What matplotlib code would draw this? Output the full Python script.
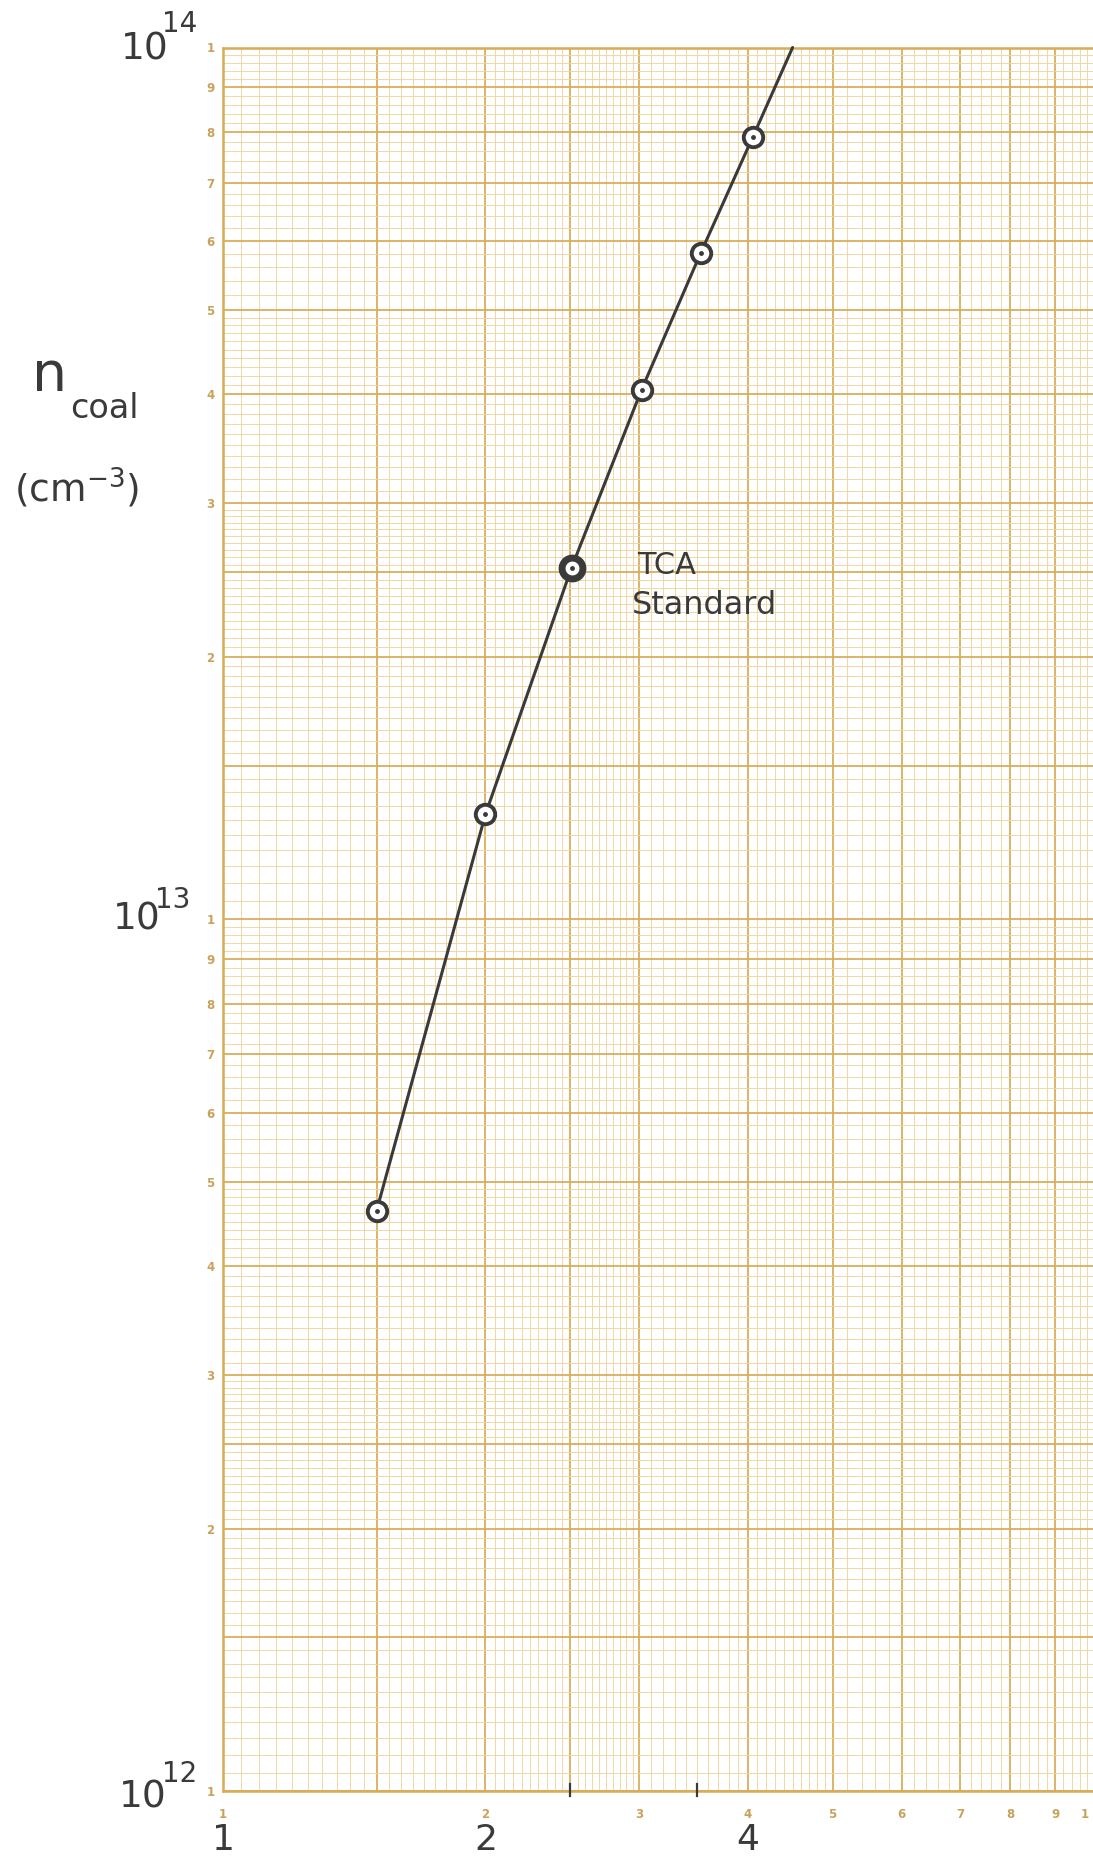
import numpy as np
import matplotlib
matplotlib.use('Agg')
import matplotlib.pyplot as plt
from matplotlib.ticker import NullFormatter, FixedLocator, FixedFormatter
from matplotlib.transforms import blended_transform_factory

# ---------------- data ----------------
x_vals = [1.50, 2.00, 2.51, 3.02, 3.53, 4.05]
n_coal = [4.63e12, 1.32e13, 2.53e13, 4.05e13, 5.81e13, 7.89e13]
tca_index = 2
line_end_x = 4.50
line_end_y = 1.0e14
pencil_ticks = [2.5, 3.5]

# ---------------- graph-paper rulings ----------------
major_mantissas = [1, 1.5, 2, 2.5, 3, 4, 5, 6, 7, 8, 9]
major_labels = ['1', '', '2', '', '3', '4', '5', '6', '7', '8', '9']
fine_ranges = [(1.0, 3.0, 0.05), (3.0, 5.0, 0.1), (5.0, 10.0, 0.2)]
y_decades = [1e12, 1e13]
hand_x_values = [1, 2, 4]
hand_x_labels = ['1', '2', '4']

W, H = 1093, 1863
INK = '#3a3a3a'
HEAVY = '#d7ac55'
FINE = '#efd59e'
PRINT = '#c9a25a'

fig = plt.figure(figsize=(W / 100, H / 100), dpi=100)
fig.patch.set_facecolor('white')

left_px, bottom_px, top_px, decade_px = 223, 1791, 47.5, 872
ax = fig.add_axes([left_px / W, 1 - bottom_px / H, decade_px / W, (bottom_px - top_px) / H])
ax.set_xscale('log')
ax.set_yscale('log')
ax.set_xlim(1, 10)
ax.set_ylim(1e12, 1e14)


def fine_values(scale):
    vals = []
    for lo, hi, step in fine_ranges:
        n = int(round((hi - lo) / step))
        for k in range(1, n):
            v = lo + k * step
            if not any(abs(v - m) < 1e-9 for m in major_mantissas):
                vals.append(v * scale)
    return vals


# x rulings (the last "1" at x = 10 is written separately, see below)
x_major = list(major_mantissas) + [10]
x_major_lab = list(major_labels) + ['']
ax.xaxis.set_major_locator(FixedLocator(x_major))
ax.xaxis.set_major_formatter(FixedFormatter(x_major_lab))
ax.xaxis.set_minor_locator(FixedLocator(fine_values(1)))
ax.xaxis.set_minor_formatter(NullFormatter())

# y rulings
y_major, y_major_lab, y_minor = [], [], []
for d in y_decades:
    y_major += [m * d for m in major_mantissas]
    y_major_lab += major_labels
    y_minor += fine_values(d)
y_major.append(1e14)
y_major_lab.append('1')
ax.yaxis.set_major_locator(FixedLocator(y_major))
ax.yaxis.set_major_formatter(FixedFormatter(y_major_lab))
ax.yaxis.set_minor_locator(FixedLocator(y_minor))
ax.yaxis.set_minor_formatter(NullFormatter())

ax.set_axisbelow(True)
ax.grid(which='minor', color=FINE, lw=0.65)
ax.grid(which='major', color=HEAVY, lw=1.25)
ax.tick_params(which='both', length=0)
ax.tick_params(axis='y', pad=6, labelsize=8.5, labelcolor=PRINT)
ax.tick_params(axis='x', pad=12, labelsize=8.5, labelcolor=PRINT)
for lab in ax.get_xticklabels() + ax.get_yticklabels():
    lab.set_fontweight('bold')
for s in ['left', 'bottom', 'top']:
    ax.spines[s].set_color(HEAVY)
    ax.spines[s].set_linewidth(1.8)
ax.spines['right'].set_visible(False)


def fx(px):
    return px / W


def fy(py):
    return 1 - py / H


# printed "1" at the right end of the x scale
fig.text(fx(1085), fy(1814), '1', fontsize=8.5, fontweight='bold', color=PRINT,
         ha='center', va='center')

# ---------------- hand-drawn curve ----------------
ax.plot(x_vals + [line_end_x], n_coal + [line_end_y], color=INK, lw=2.2,
        solid_capstyle='round', zorder=3, clip_on=False)
others = [i for i in range(len(x_vals)) if i != tca_index]
ax.plot([x_vals[i] for i in others], [n_coal[i] for i in others], 'o',
        ms=14, mfc='white', mec=INK, mew=2.8, zorder=4)
ax.plot([x_vals[tca_index]], [n_coal[tca_index]], 'o',
        ms=15, mfc='white', mec=INK, mew=5.0, zorder=4)
ax.plot(x_vals, n_coal, 'o', ms=3.5, color=INK, mew=0, zorder=5)

# pencil marks on the bottom edge
for xt in pencil_ticks:
    ax.axvline(xt, ymin=-0.003, ymax=0.004, color=INK, lw=1.6, clip_on=False, zorder=5)

# annotation
fig.text(fx(637), fy(566), 'TCA', fontsize=22, color=INK, ha='left', va='center')
fig.text(fx(632), fy(606), 'Standard', fontsize=23, color=INK, ha='left', va='center')

# hand-written y decade labels
for (cx, cy, sx, sy, exp) in [(145, 49, 180, 24, '14'), (137, 920, 173, 900, '13'),
                              (143, 1797, 180, 1774, '12')]:
    fig.text(fx(cx), fy(cy), '10', fontsize=27, color=INK, ha='center', va='center')
    fig.text(fx(sx), fy(sy), exp, fontsize=20, color=INK, ha='center', va='center')

# hand-written y axis label
fig.text(fx(50), fy(376), 'n', fontsize=40, color=INK, ha='center', va='center')
fig.text(fx(104), fy(408), 'coal', fontsize=24, color=INK, ha='center', va='center')
fig.text(fx(77), fy(488), r'(cm$^{-3}$)', fontsize=27, color=INK, ha='center', va='center')

# hand-written x labels
trans = blended_transform_factory(ax.transData, fig.transFigure)
for xv, lab in zip(hand_x_values, hand_x_labels):
    ax.text(xv, fy(1840), lab, fontsize=26, color=INK, ha='center', va='center',
            transform=trans, clip_on=False)

fig.savefig('out.png', dpi=100, facecolor='white')
